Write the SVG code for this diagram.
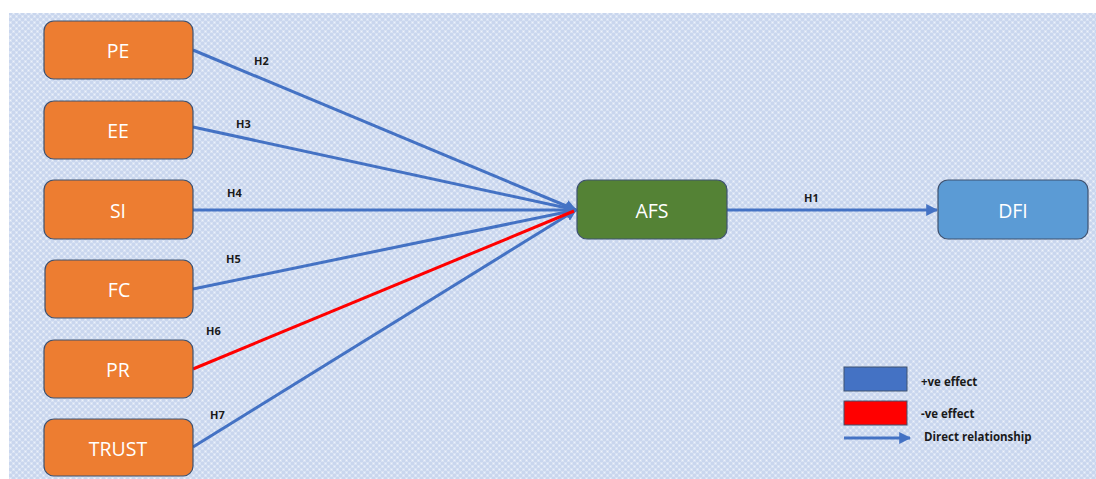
<svg xmlns="http://www.w3.org/2000/svg" width="1096" height="479" viewBox="0 0 1096 479">
<style>
.node rect{stroke:#3f5270;stroke-width:1.2}
.o rect{fill:#ed7d31}
.nt{font-family:"Open Sans","Liberation Sans",sans-serif;font-size:19.5px;fill:#ffffff;text-anchor:middle;dominant-baseline:central}
.lbl{font-family:"Open Sans","Liberation Sans",sans-serif;font-size:11px;font-weight:bold;fill:#1a1a1a}
.lg{font-family:"Open Sans","Liberation Sans",sans-serif;font-size:11.5px;font-weight:bold;fill:#1a1a1a}
.c{stroke:#4472c4;stroke-width:3;fill:none}
.r{stroke:#ff0000;stroke-width:3;fill:none}
</style>
<defs>
<pattern id="bg" width="6" height="6" patternUnits="userSpaceOnUse">
<rect width="6" height="6" fill="#c9d6ee"/>
<rect x="0" y="0" width="3" height="3" fill="#d8e2f3"/>
<rect x="3" y="3" width="3" height="3" fill="#d8e2f3"/>
<rect x="1" y="1" width="1" height="1" fill="#eef2fa"/>
<rect x="4" y="4" width="1" height="1" fill="#eef2fa"/>
</pattern>
<marker id="ab" viewBox="0 0 10 10" refX="9" refY="5" markerWidth="4" markerHeight="4" orient="auto" markerUnits="strokeWidth">
<path d="M0,0 L10,5 L0,10 z" fill="#4472c4"/>
</marker>
</defs>
<rect x="0" y="0" width="1096" height="479" fill="#ffffff"/>
<rect x="9" y="13" width="1087" height="466" fill="url(#bg)"/>
<g id="connectors">
<line class="c" x1="193" y1="50" x2="576" y2="210" marker-end="url(#ab)"/>
<line class="c" x1="193" y1="127" x2="576" y2="210" marker-end="url(#ab)"/>
<line class="c" x1="193" y1="210" x2="576" y2="210" marker-end="url(#ab)"/>
<line class="c" x1="193" y1="289" x2="576" y2="210" marker-end="url(#ab)"/>
<line class="c" x1="193" y1="447" x2="576" y2="210" marker-end="url(#ab)"/>
<line class="r" x1="193" y1="369" x2="574" y2="211"/>
<line class="c" x1="727" y1="210" x2="937" y2="210" marker-end="url(#ab)"/>
<text class="lbl" x="254" y="65">H2</text>
<text class="lbl" x="236" y="128">H3</text>
<text class="lbl" x="227" y="197">H4</text>
<text class="lbl" x="226" y="263">H5</text>
<text class="lbl" x="206" y="335">H6</text>
<text class="lbl" x="210" y="419">H7</text>
<text class="lbl" x="804" y="202">H1</text>
</g>
<g id="PE" class="node o"><rect x="44" y="21" width="149" height="58" rx="10"/><text class="nt" x="118" y="50">PE</text></g>
<g id="EE" class="node o"><rect x="44" y="101" width="149" height="58" rx="10"/><text class="nt" x="118" y="130">EE</text></g>
<g id="SI" class="node o"><rect x="44" y="180" width="149" height="59" rx="10"/><text class="nt" x="118" y="210">SI</text></g>
<g id="FC" class="node o"><rect x="45" y="260" width="148" height="58" rx="10"/><text class="nt" x="119" y="289">FC</text></g>
<g id="PR" class="node o"><rect x="44" y="340" width="149" height="58" rx="10"/><text class="nt" x="118" y="369">PR</text></g>
<g id="TRUST" class="node o"><rect x="44" y="419" width="149" height="57" rx="10"/><text class="nt" x="118" y="448">TRUST</text></g>
<g id="AFS" class="node"><rect x="577" y="180" width="150" height="59" rx="10" fill="#548235"/><text class="nt" x="652" y="210">AFS</text></g>
<g id="DFI" class="node"><rect x="938" y="180" width="150" height="59" rx="10" fill="#5b9bd5"/><text class="nt" x="1013" y="210">DFI</text></g>
<g id="legend">
<rect x="844" y="367" width="63" height="24" fill="#4472c4" stroke="#3f5270" stroke-width="1"/>
<rect x="844" y="401" width="63" height="24" fill="#ff0000" stroke="#3f5270" stroke-width="1"/>
<line class="c" x1="844" y1="438" x2="910" y2="438" marker-end="url(#ab)"/>
<text class="lg" x="921" y="386">+ve effect</text>
<text class="lg" x="921" y="418">-ve effect</text>
<text class="lg" x="924" y="441">Direct relationship</text>
</g>
</svg>
